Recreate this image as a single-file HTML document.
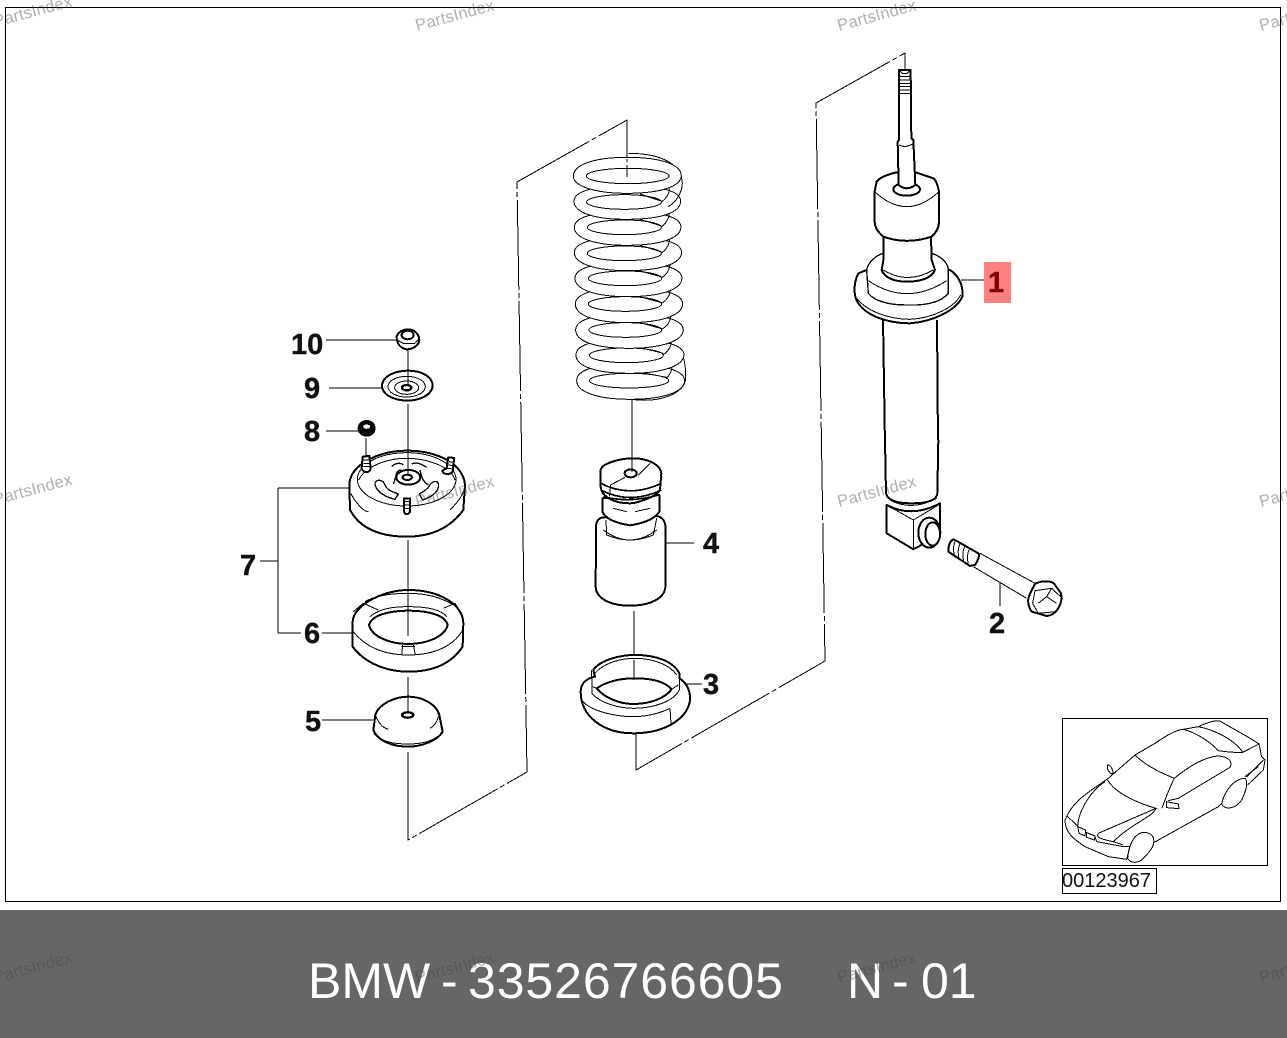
<!DOCTYPE html>
<html><head><meta charset="utf-8"><style>
html,body{margin:0;padding:0;background:#fff}
svg{display:block;shape-rendering:crispEdges}
text{font-family:"Liberation Sans",sans-serif}
.n{font-weight:bold;font-size:29px;fill:#111;stroke:#111;stroke-width:.4}
.w{font-size:16.5px;fill:#444;opacity:.42;letter-spacing:.2px}
.p path,.p ellipse{fill:#fff;stroke:#000;stroke-width:6;stroke-linejoin:round}
.p .l{fill:none;stroke-width:3}
.p .f{fill:none}
.t path,.t ellipse{fill:#fff;stroke:#000;stroke-width:3}
.t .l{fill:none}
.d{fill:none;stroke:#000;stroke-width:1;stroke-dasharray:90 3 5 3}
.s{fill:none;stroke:#000;stroke-width:1}
</style></head><body>
<svg width="1287" height="1038" viewBox="0 0 1287 1038" xmlns="http://www.w3.org/2000/svg">
<rect width="1287" height="1038" fill="#fff"/>
<rect x="5.5" y="7.5" width="1275" height="894" fill="none" stroke="#000"/>
<rect x="0" y="910" width="1287" height="128" fill="#666"/>

<!-- dash-dot connectors -->
<path class="d" d="M408,752 L408,840 L527,772 L517,182 L627,120 L627,180"/>
<path class="d" d="M636,733 L636,770 L825,661 L816,103 L905,53 L905,73"/>
<path class="d" d="M632,400 L632,472"/>
<path class="d" d="M634,611 L634,706"/>
<path class="d" d="M408,350 L408,372 M408,404 L408,480"/>
<path class="d" d="M408,540 L408,636"/>
<path class="d" d="M408,677 L408,712"/>
<path class="d" d="M366,438 L366,458"/>

<!-- spring -->
<g class="t" transform="translate(560,140) scale(.3333)">
<path class="l" d="M215,778 C300,790 375,760 377,715 C378,680 372,650 364,640"/>
<path d="M50,722 C50,690 100,674 210,674 C310,674 372,690 374,722 C372,760 300,778 210,778 C110,778 50,755 50,722Z"/>
<ellipse cx="207" cy="722" rx="119" ry="22"/>
<path class="l" d="M336,672 C338,695 325,710 318,716 M245,698 L320,712"/>
<path d="M48,645 C48,615 100,598 208,598 C310,598 372,615 372,645 C370,680 300,700 208,700 C110,700 48,680 48,645Z"/>
<ellipse cx="199" cy="646" rx="111" ry="22"/>
<path class="l" d="M334,598 C336,620 322,636 310,644 M245,624 L310,640"/>
<path d="M47,570 C47,540 100,522 206,522 C310,522 370,540 370,570 C368,605 300,625 206,625 C110,625 47,605 47,570Z"/>
<ellipse cx="196" cy="570" rx="109" ry="22"/>
<path class="l" d="M332,522 C334,544 320,560 305,568 M240,548 L305,566"/>
<path d="M46,492 C46,462 100,444 204,444 C310,444 368,462 368,492 C366,528 300,548 204,548 C110,548 46,528 46,492Z"/>
<ellipse cx="195" cy="492" rx="110" ry="22"/>
<path class="l" d="M331,444 C333,466 318,482 305,490 M240,470 L305,488"/>
<path d="M45,415 C45,385 100,368 202,368 C310,368 366,385 366,415 C364,450 300,470 202,470 C110,470 45,450 45,415Z"/>
<ellipse cx="195" cy="415" rx="110" ry="22"/>
<path class="l" d="M330,366 C332,388 318,405 305,413 M240,393 L305,411"/>
<path d="M43,338 C43,308 100,292 200,292 C310,292 365,308 365,338 C363,372 300,392 200,392 C110,392 43,372 43,338Z"/>
<ellipse cx="193" cy="340" rx="111" ry="22"/>
<path class="l" d="M329,290 C331,312 318,330 305,338 M240,316 L305,336"/>
<path d="M43,262 C43,232 100,215 198,215 C310,215 363,232 363,262 C361,296 300,316 198,316 C110,316 43,296 43,262Z"/>
<ellipse cx="193" cy="262" rx="111" ry="22"/>
<path class="l" d="M328,212 C330,234 316,252 305,260 M240,238 L305,258"/>
<path d="M42,184 C42,154 100,138 196,138 C310,138 362,154 362,184 C360,220 300,238 196,238 C110,238 42,220 42,184Z"/>
<ellipse cx="192" cy="186" rx="112" ry="22"/>
<path class="l" d="M205,40 C300,40 365,70 367,130 C367,155 350,185 325,200 M328,145 C328,165 315,178 305,185 M240,162 L300,182"/>
<path d="M40,108 C40,72 110,52 200,52 C300,52 364,72 364,108 C362,140 300,160 200,160 C110,160 40,140 40,108Z"/>
<ellipse cx="203" cy="108" rx="124" ry="23"/>
</g>
<path class="d" d="M627,120 L627,177" style="stroke-dasharray:36 3 3 3"/>

<!-- bump stop + seat -->
<g class="p" transform="translate(570,440) scale(.3333)">
<path d="M78,260 C78,240 90,230 110,232 L260,228 C280,232 286,245 287,265 L286,440 C285,475 240,497 180,497 C120,497 78,475 77,440Z"/>
<path class="l" d="M100,270 Q180,330 260,270"/>
<path d="M97,175 L97,215 Q110,245 180,256 Q250,245 268,215 L268,165 Z"/>
<path class="l" d="M108,240 L110,285 Q180,315 250,285 L260,235"/>
<path class="l" d="M130,205 L170,215 M195,215 L240,205"/>
<path d="M92,90 C95,70 150,55 190,55 C235,55 272,75 274,100 L270,150 C260,170 200,190 180,190 C130,190 95,170 92,140Z"/>
<path class="l" d="M92,130 Q180,175 274,130 M92,150 Q180,195 274,150 M100,170 Q180,190 265,165" style="stroke-width:5"/>
<path class="l" d="M118,170 L122,135 L165,112 M205,105 L240,70"/>
<ellipse cx="182" cy="100" rx="18" ry="12"/>
<path d="M32,755 C32,730 50,715 75,710 L70,690 C90,660 150,645 195,645 C260,645 310,665 328,700 L328,715 C345,725 360,745 360,775 C360,830 290,880 190,880 C100,880 32,830 32,755Z"/>
<path class="l" d="M65,690 L66,760 C90,790 150,805 190,805 C250,805 310,785 328,750 L328,700"/>
<path class="l" d="M35,780 C60,815 140,830 190,830 C240,830 280,815 300,805 M300,805 L303,850"/>
<path d="M80,745 C110,725 150,715 195,715 C245,715 285,725 305,748 C285,775 240,792 190,792 C150,792 105,775 80,745Z"/>
<path class="l" d="M75,700 C100,670 150,655 195,655 C250,655 300,675 320,705"/>
<path class="l" d="M68,740 L80,745 M305,748 L325,735"/>
</g>
<path class="s" d="M666,543 L694,543 M687,684 L702,684"/>
<path class="d" d="M634,660 L634,680"/>
<path class="d" d="M632,440 L632,472"/>

<!-- shock tube -->
<path class="s" style="stroke-width:2" d="M883,320 L885,445 M937,320 L938,445"/>
<g class="p" transform="translate(860,440) scale(.3333)">
<path d="M75,0 L78,160 Q85,190 155,190 Q230,190 232,160 L235,0Z" style="stroke:none"/>
<path class="f" d="M75,0 L78,160 Q85,190 155,190 Q230,190 232,160 L235,0"/>
<path class="l" d="M90,180 Q155,215 230,175"/>
<path d="M80,195 Q155,235 240,190 L240,285 L160,328 L80,280Z"/>
<path class="l" d="M80,195 L160,240 L240,192 M160,240 L160,328"/>
<ellipse cx="208" cy="278" rx="33" ry="45"/>
<ellipse cx="218" cy="282" rx="22" ry="35"/>
<!-- bolt -->
<path class="l" style="stroke-width:3" d="M360,340 L525,430 M340,380 L500,475"/>
<path d="M285,300 C275,295 265,310 265,335 L330,378 L345,375 C355,360 360,345 355,340Z"/>
<path class="l" d="M288,300 C278,315 280,335 283,345 M302,308 C292,325 294,345 297,355 M316,316 C306,333 308,353 311,363 M330,324 C320,341 322,361 325,371"/>
<path d="M525,432 C545,420 580,422 585,435 L603,460 C610,490 590,525 560,528 L515,515 C505,500 500,480 510,462Z"/>
<path class="l" d="M525,452 L575,445 L607,475 L590,515 L535,520 L518,490Z M560,470 L575,445 M535,490 L560,470 L590,490"/>
</g>
<path class="s" d="M1000,583 L1000,606"/>

<!-- shock upper -->
<g class="p" transform="translate(800,40) scale(.3333)">
<path d="M175,700 C160,730 160,770 175,790 C210,840 290,850 330,850 C400,845 470,810 487,770 C490,740 480,710 450,690 L200,690Z"/>
<path class="l" d="M170,775 C210,825 290,838 330,838 C400,835 465,800 482,765"/>
<path d="M200,690 C205,665 230,645 250,640 L395,640 C425,650 445,670 445,690 L445,760 C420,790 370,797 320,795 C270,795 225,785 205,760Z" style="stroke-width:4"/>
<path class="l" d="M205,722 Q320,800 440,722"/>
<path d="M250,590 L393,590 L395,660 L405,690 C395,715 360,725 322,725 C285,725 255,715 245,690 L250,660Z"/>
<path class="l" d="M250,690 Q322,735 400,690"/>
<path d="M224,455 L224,545 Q225,570 250,590 Q320,615 395,590 Q417,570 417,545 L417,455 Q410,420 400,415 L350,398 L285,398 Q240,410 230,425Z"/>
<path class="l" d="M224,455 Q320,545 417,455"/>
<ellipse cx="320" cy="448" rx="40" ry="19"/>
<path d="M297,90 L297,300 L293,305 L296,435 Q320,455 346,435 L340,300 L334,295 L332,90 Z"/>
<path class="l" d="M297,315 Q316,325 338,312 M297,90 L307,100 L322,100 L332,90 M300,110 L330,110 M300,120 L330,120 M300,130 L330,130 M300,140 L330,140 M300,150 L330,150 M300,160 L330,160"/>
</g>
<path class="s" d="M961,280 L988,280"/>

<!-- top mount, washer, nuts -->
<g class="p" transform="translate(280,320) scale(.3333)">
<path d="M208,490 C215,430 300,392 380,392 C470,392 550,430 555,495 L550,570 C510,625 450,650 380,650 C300,650 240,625 210,570Z"/>
<path class="l" d="M212,520 C240,570 260,575 265,575 M510,570 C530,550 545,530 550,515"/>
<ellipse cx="380" cy="478" rx="148" ry="80" style="stroke-width:3"/>
<path class="l" d="M236,480 C255,440 320,415 380,415 C440,415 515,440 525,480"/>
<path class="f" d="M335,440 C350,425 365,430 370,435 M395,432 C410,425 425,432 440,442 M340,492 C350,470 345,450 365,450 M420,450 C425,475 430,485 445,495 M285,490 C290,475 310,480 315,495 C325,515 340,515 355,522 L345,538 C310,530 285,510 285,490Z M475,490 C470,480 455,485 450,495 C440,510 430,515 418,522 L428,540 C460,530 480,510 475,490Z" style="stroke-width:4"/>
<ellipse cx="385" cy="472" rx="36" ry="22"/>
<ellipse cx="382" cy="472" rx="14" ry="8"/>
<path class="f" d="M260,405 L260,455 M510,415 L505,460"/>
<path d="M248,410 L268,408 L272,445 C270,460 250,460 245,445Z"/>
<path class="l" d="M250,420 L270,420 M250,430 L270,430 M250,440 L270,440"/>
<path d="M505,412 L523,414 L518,455 C510,465 490,465 487,452 L500,445Z"/>
<path class="l" d="M507,425 L522,427 M505,435 L520,437 M503,445 L518,447"/>
<path d="M372,535 L390,535 L390,575 C385,585 375,585 372,575Z"/>
<path class="l" d="M373,545 L390,545 M373,555 L390,555 M373,565 L390,565"/>
<ellipse cx="260" cy="325" rx="24" ry="22" style="fill:#000"/>
<ellipse cx="260" cy="320" rx="12" ry="8" style="stroke-width:3"/>
<path d="M350,50 C355,35 370,28 385,28 C405,28 418,45 418,60 C415,80 395,88 380,88 C365,85 350,75 350,50Z"/>
<ellipse cx="383" cy="45" rx="18" ry="13"/>
<path class="l" d="M350,60 L370,70 L405,70 L416,58"/>
<path d="M306,195 C310,165 350,152 385,152 C425,152 458,170 458,198 C455,225 420,242 380,242 C340,240 306,225 306,195Z"/>
<ellipse cx="380" cy="200" rx="56" ry="31" class="l"/>
<ellipse cx="380" cy="203" rx="36" ry="20" class="l"/>
<ellipse cx="380" cy="203" rx="14" ry="8" style="fill:#fff;stroke-width:7"/>
</g>
<path class="d" d="M408,350 L408,385"/>
<path class="d" d="M408,404 L408,476"/>

<!-- ring 6, cap 5 -->
<g class="p" transform="translate(270,540) scale(.3333)">
<path d="M248,245 C250,195 340,150 415,150 C510,150 580,195 580,250 L578,320 C545,370 490,395 415,395 C350,395 285,370 248,320Z"/>
<path class="l" d="M250,275 C290,325 350,345 415,345 C490,345 550,320 578,270"/>
<path class="l" d="M285,185 C320,165 370,160 415,160 C460,160 510,170 550,195"/>
<path class="l" d="M250,215 L280,190 L325,210 M520,205 L555,190 L575,220 M395,320 L435,320 M395,345 L398,315 M436,345 L430,315"/>
<path d="M297,255 C305,225 360,212 415,212 C475,212 525,225 533,255 C525,290 470,312 415,312 C360,312 305,290 297,255Z"/>
<path class="l" d="M300,230 C330,205 370,200 415,200 C460,200 510,205 530,230"/>
<path d="M316,525 C325,495 370,470 415,470 C460,470 500,495 508,525 L518,575 C500,605 450,620 415,620 C370,620 325,605 310,570Z"/>
<path class="l" d="M316,525 C330,560 345,565 355,568 M505,530 C500,550 490,560 480,565 M312,580 C340,610 380,612 415,612 C450,612 490,605 515,580"/>
<ellipse cx="413" cy="525" rx="17" ry="8" style="stroke-width:7"/>
</g>
<path class="s" d="M408,540 L408,636"/>
<path class="s" d="M408,677 L408,712"/>

<!-- leaders and bracket -->
<path class="s" d="M326,340 L398,340 M329,388 L382,388 M326,431 L358,431 M278,488 L349,488 M278,488 L278,633 M260,561 L278,561 M278,633 L301,633 M322,633 L352,633 M322,720 L373,720"/>

<!-- highlight -->
<rect x="984" y="262" width="27" height="41" fill="#ff8080"/>

<!-- labels -->
<text class="n" x="291" y="354">10</text>
<text class="n" x="304" y="398">9</text>
<text class="n" x="304" y="441">8</text>
<text class="n" x="240" y="575">7</text>
<text class="n" x="304" y="643">6</text>
<text class="n" x="305" y="731">5</text>
<text class="n" x="703" y="553">4</text>
<text class="n" x="703" y="694">3</text>
<text class="n" x="989" y="633">2</text>
<text class="n" x="988" y="292" style="fill:#800000;stroke:#800000">1</text>

<!-- inset car -->
<rect x="1062.5" y="718.5" width="205" height="147" fill="#fff" stroke="#000"/>
<rect x="1062.5" y="868.5" width="94" height="25" fill="#fff" stroke="#000"/>
<text x="1062" y="887" font-size="20" fill="#111">00123967</text>
<g class="t" transform="translate(1055,710) scale(.3333)">
<path class="l" d="M40,310 C60,270 110,240 160,205 L240,135 L300,100 C330,80 360,60 385,58 L430,50 C450,40 480,30 495,33 C540,60 580,80 612,102 L620,140 L630,150 L625,180 L578,225"/>
<path class="l" d="M240,135 C270,165 320,190 358,205 M385,58 C430,70 470,100 490,122 C510,125 540,128 563,127 L612,102 M430,50 C480,60 540,90 563,127"/>
<path class="l" d="M358,205 C340,240 335,260 320,295 M358,205 C400,170 450,140 490,138 C520,140 535,155 525,172 L370,265 L340,272"/>
<path class="l" d="M335,275 L370,282 L372,296 L335,293Z M158,165 C165,160 178,185 172,192 C160,188 155,175 158,165Z"/>
<path class="l" d="M158,210 C180,250 250,280 303,295 L130,370 C125,380 125,385 175,395 L205,405 M303,295 C295,320 230,340 175,395"/>
<path class="l" d="M150,215 C110,240 70,300 68,350 M68,350 L92,360 L90,378 L72,370Z M95,368 L120,378 L118,390 L95,382Z"/>
<path class="l" d="M40,310 L30,330 C30,370 60,390 90,410 L160,440 L215,448 L225,410 L205,410 L125,395 L120,380 M36,318 L70,350"/>
<path class="l" d="M570,205 C540,205 510,240 500,280 C505,300 540,300 560,270 C575,240 580,215 570,205Z"/>
<path class="l" d="M296,398 C300,375 280,365 260,368 C235,375 220,410 218,445 C225,460 250,462 265,445 C285,425 296,410 296,398Z"/>
<path class="l" d="M296,398 L490,290 L500,280 M575,200 L625,150 M570,200 L610,170"/>
</g>

<!-- footer text -->
<text x="308" y="998" font-size="50" fill="#fff">BMW</text>
<text x="441" y="998" font-size="50" fill="#fff">-</text>
<text x="468" y="998" font-size="50" fill="#fff" letter-spacing=".9">33526766605</text>
<text x="847" y="998" font-size="50" fill="#fff">N</text>
<text x="892" y="998" font-size="50" fill="#fff">-</text>
<text x="921" y="998" font-size="50" fill="#fff">01</text>

<!-- watermarks -->
<g>
<text class="w" transform="translate(-5,27) rotate(-15)">PartsIndex</text>
<text class="w" transform="translate(417,31) rotate(-15)">PartsIndex</text>
<text class="w" transform="translate(839,31) rotate(-15)">PartsIndex</text>
<text class="w" transform="translate(1261,31) rotate(-15)">PartsIndex</text>
<text class="w" transform="translate(-5,505) rotate(-15)">PartsIndex</text>
<text class="w" transform="translate(417,507) rotate(-15)">PartsIndex</text>
<text class="w" transform="translate(839,507) rotate(-15)">PartsIndex</text>
<text class="w" transform="translate(1261,507) rotate(-15)">PartsIndex</text>
<text class="w" transform="translate(-5,983) rotate(-15)">PartsIndex</text>
<text class="w" transform="translate(417,983) rotate(-15)">PartsIndex</text>
<text class="w" transform="translate(839,983) rotate(-15)">PartsIndex</text>
<text class="w" transform="translate(1261,983) rotate(-15)">PartsIndex</text>
</g>
</svg>
</body></html>
